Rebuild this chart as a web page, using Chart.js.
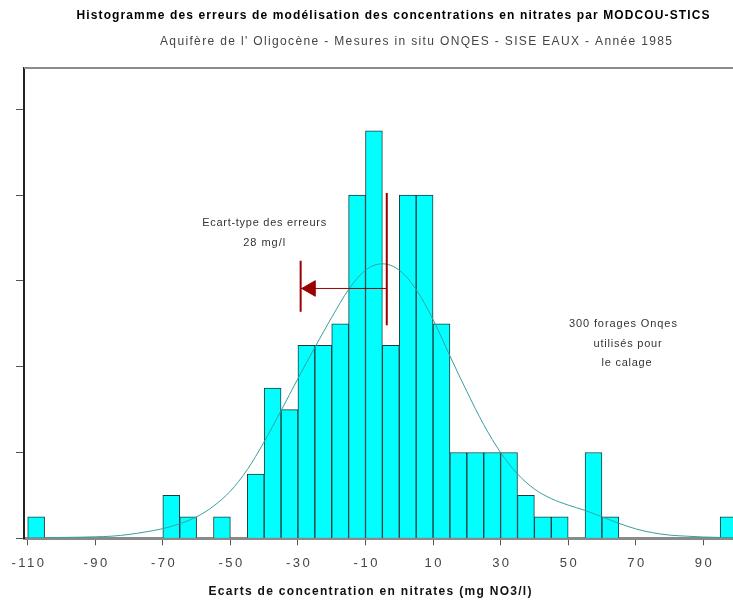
<!DOCTYPE html>
<html>
<head>
<meta charset="utf-8">
<script src="https://cdn.jsdelivr.net/npm/chart.js@4"></script>
<style>
  html, body { margin:0; padding:0; background:#fff; overflow:hidden; }
</style>
</head>
<body>
<canvas id="histo" width="733" height="601"></canvas>
<script>
// ---------------------
// données
// ---------------------
const binWidth = 5;
const binLeft = [-110, -70, -65, -55, -45, -40, -35, -30, -25, -20, -15, -10, -5, 0, 5, 10, 15, 20, 25, 30, 35, 40, 45, 55, 60, 95];
const counts  = [   1,   2,   1,   1,   3,   7,   6,   9,   9,  10,  16,  19,  9, 16, 16, 10, 4,  4,  4,  4,  2,  1,  1,  4,  1,  1];

// courbe de la loi normale ajustée
const curveX = [-110,-105,-100,-95,-90,-85,-80,-75,-70,-65,-60,-55,-50,-45,-40,-35,-30,-25,-20,-15,-10,-5,0,5,10,15,20,25,30,35,40,45,50,55,60,65,70,75,80,85,90,95,100];
const curveY = [0.02,0.03,0.04,0.05,0.07,0.1,0.18,0.3,0.45,0.68,1.0,1.5,2.2,3.2,4.5,5.95,7.45,8.9,10.3,11.6,12.5,12.8,12.5,11.6,10.2,8.5,6.85,5.3,4.0,3.0,2.3,1.85,1.55,1.3,1.0,0.7,0.44,0.26,0.15,0.1,0.06,0.04,0.03];

const xTicks = [-110, -90, -70, -50, -30, -10, 10, 30, 50, 70, 90];
const yTicks = [0, 4, 8, 12, 16, 20];

// moyenne et écart-type (flèche)
const meanX = -3.7, meanTop = 16.1, meanBottom = 9.94;
const sdX = -29.2, sdY = 11.65, sdCapTop = 12.94, sdCapBottom = 10.56;
const arrowX = -26.2;

const TITLE = "Histogramme des erreurs de modélisation des concentrations en nitrates par MODCOU-STICS";
const SUBTITLE = "Aquifère de l' Oligocène - Mesures in situ ONQES - SISE EAUX - Année 1985";
const XTITLE = "Ecarts de concentration en nitrates (mg NO3/l)";

const notes = [
  {text:"Ecart-type des erreurs", x:-40, y:14.7, w:124},
  {text:"28 mg/l", x:-40, y:13.77, w:42},
  {text:"300 forages Onqes", x:66.2, y:9.99, w:108},
  {text:"utilisés pour", x:67.6, y:9.06, w:68},
  {text:"le calage", x:67.3, y:8.19, w:50}
];

// ---------------------
// texte espacé
// ---------------------
function fitText(ctx, text, cx, cy, width, font, color){
  ctx.font = font;
  ctx.letterSpacing = "0px";
  const w = ctx.measureText(text).width;
  const ls = text.length > 1 ? (width - w) / (text.length - 1) : 0;
  ctx.letterSpacing = ls + "px";
  ctx.textAlign = "left";
  ctx.textBaseline = "middle";
  ctx.fillStyle = color;
  ctx.fillText(text, cx - width/2, cy);
  ctx.letterSpacing = "0px";
}
function spacedText(ctx, text, cx, cy, font, ls, color){
  ctx.font = font;
  ctx.letterSpacing = "0px";
  const w = ctx.measureText(text).width + ls * (text.length - 1);
  fitText(ctx, text, cx, cy, w, font, color);
}

const textPlugin = {
  id: "texts",
  afterDraw(chart){
    const {ctx, chartArea:a, scales:{x, y}} = chart;
    ctx.save();
    // cadre du haut
    ctx.strokeStyle = "#8c8c8c";
    ctx.lineWidth = 2;
    ctx.beginPath(); ctx.moveTo(a.left, a.top); ctx.lineTo(a.right, a.top); ctx.stroke();

    fitText(ctx, TITLE, 393, 16, 633, 'bold 12px "Liberation Sans", Arial, sans-serif', "#000");
    fitText(ctx, SUBTITLE, 416, 42, 512, '12px "Liberation Sans", Arial, sans-serif', "#444");

    xTicks.forEach(v=>{
      spacedText(ctx, String(v), x.getPixelForValue(v), 563, '13px "Liberation Sans", Arial, sans-serif', 2.5, "#444");
    });

    fitText(ctx, XTITLE, 370, 591.5, 323, 'bold 12px "Liberation Sans", Arial, sans-serif', "#111");

    notes.forEach(n=>{
      fitText(ctx, n.text, x.getPixelForValue(n.x), y.getPixelForValue(n.y), n.w, '11px "Liberation Sans", Arial, sans-serif', "#333");
    });
    ctx.restore();
  }
};

// ---------------------
// graphique
// ---------------------
const bars = binLeft.map((b,i)=>({x:b + binWidth/2, y:counts[i]}));
const curve = curveX.map((v,i)=>({x:v, y:curveY[i]}));
const red = "#990000";

new Chart(document.getElementById("histo"), {
  type: "bar",
  data: {
    datasets: [
      {type:"line", data:[{x:meanX,y:meanTop},{x:meanX,y:meanBottom}], borderColor:red, borderWidth:2, pointRadius:0, order:0},
      {type:"line", data:[{x:meanX,y:sdY},{x:sdX,y:sdY}], borderColor:red, borderWidth:1, pointRadius:0, order:0},
      {type:"line", data:[{x:sdX,y:sdCapTop},{x:sdX,y:sdCapBottom}], borderColor:red, borderWidth:2, pointRadius:0, order:0},
      {type:"line", data:[{x:arrowX,y:sdY}], showLine:false, pointStyle:"triangle", pointRotation:270, pointRadius:9,
       backgroundColor:red, borderColor:red, borderWidth:1, order:0},
      {type:"line", data:curve, borderColor:"#3a9e9e", borderWidth:1, pointRadius:0, cubicInterpolationMode:"monotone", order:1},
      {type:"bar", data:bars, backgroundColor:"#00ffff", borderColor:"#1e3c3c", borderWidth:1,
       barPercentage:1, categoryPercentage:1, order:2}
    ]
  },
  options: {
    responsive: false,
    animation: false,
    layout: {autoPadding:false, padding:{left:16, top:68, right:0, bottom:55.7}},
    plugins: {legend:{display:false}, tooltip:{enabled:false}, title:{display:false}},
    scales: {
      x: {
        type: "linear", min:-111.1, max:98.8, offset:false,
        afterBuildTicks: s => { s.ticks = xTicks.map(v=>({value:v})); },
        ticks: {display:false},
        grid: {drawOnChartArea:false, drawTicks:true, tickLength:7, color:"#555", offset:false},
        border: {color:"#8a8a8a", width:3}
      },
      y: {
        min:0, max:21.93,
        afterBuildTicks: s => { s.ticks = yTicks.map(v=>({value:v})); },
        ticks: {display:false},
        grid: {drawOnChartArea:false, drawTicks:true, tickLength:8, color:"#555"},
        border: {color:"#222", width:2}
      }
    }
  },
  plugins: [textPlugin]
});
</script>
</body>
</html>
